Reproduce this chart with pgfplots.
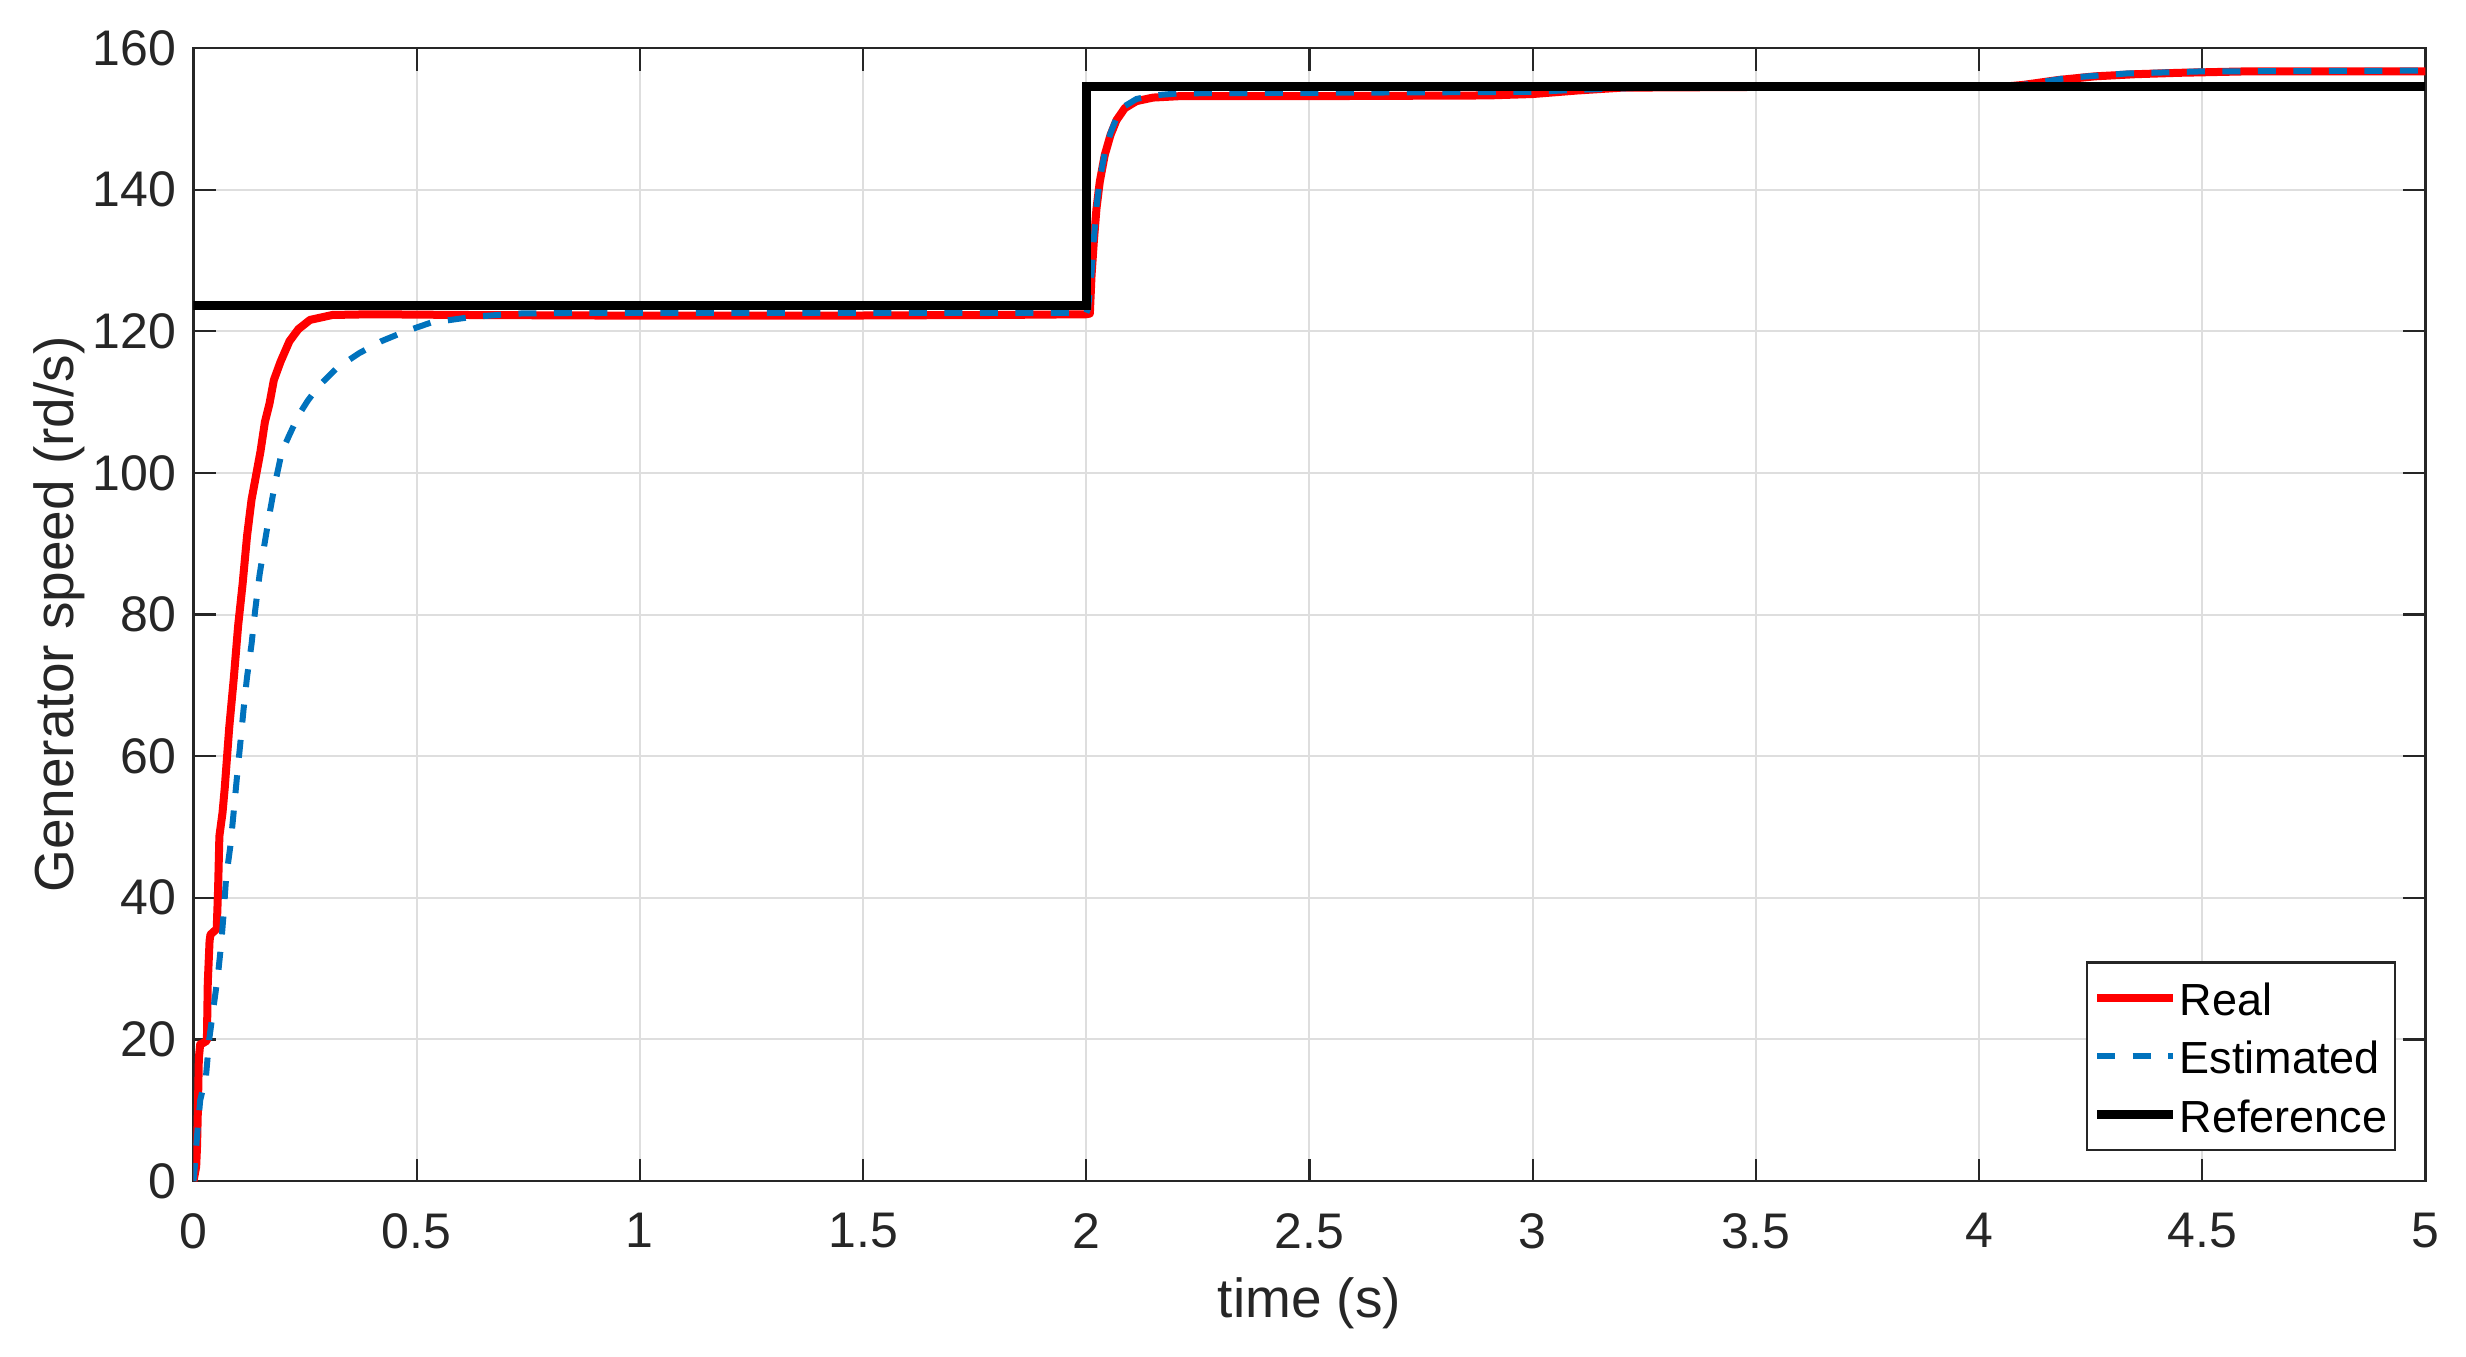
\documentclass[border=0pt]{standalone}
\usepackage{fontspec}
\setmainfont{Liberation Sans}
\usepackage{pgfplots}
\pgfplotsset{compat=1.18}
\definecolor{mred}{rgb}{1,0,0}
\definecolor{mblue}{rgb}{0,0.447,0.741}
\definecolor{axgray}{rgb}{0.15,0.15,0.15}
\definecolor{gridgray}{rgb}{0.87,0.87,0.87}

\begin{document}
\begin{tikzpicture}
\begin{axis}[
  name=ax,
  scale only axis,
  width=446.4pt, height=226.6pt,
  xmin=0, xmax=5, ymin=0, ymax=160,
  xtick={0,0.5,1,1.5,2,2.5,3,3.5,4,4.5,5},
  xticklabels={0,0.5,1,1.5,2,2.5,3,3.5,4,4.5,5},
  ytick={0,20,40,60,80,100,120,140,160},
  grid=major,
  major grid style={draw=gridgray, line width=0.4pt},
  axis line style={draw=axgray, line width=0.45pt},
  tick style={draw=axgray, line width=0.45pt},
  tick align=inside,
  major tick length=4.5pt,
  ticklabel style={font=\fontsize{10}{12}\selectfont, text=axgray},
  /pgf/number format/assume math mode=true,
  xticklabel style={yshift=-2.9pt},
  xlabel={time (s)},
  ylabel={Generator speed (rd/s)},
  label style={font=\fontsize{11}{13}\selectfont, text=axgray},
  xlabel style={at={(axis description cs:0.5,-0.108)}, anchor=center},
  ylabel style={at={(axis description cs:-0.0603,0.5)}, anchor=center},
  legend style={at={(rel axis cs:0.987,0.0264)}, anchor=south east,
    draw=axgray, line width=0.45pt, fill=white,
    font=\fontsize{9}{11}\selectfont,
    inner xsep=1.2pt, inner ysep=1.25pt,
    nodes={inner xsep=0.4pt, inner ysep=0.8pt, text height=8.5pt},
    row sep=0.1pt,
    /tikz/every even column/.style={column sep=0.8pt},
    cells={anchor=west}},
  legend image code/.code={\draw[#1] (0pt,0pt) -- (15.2pt,0pt);},
  legend cell align=left,
]
\addplot[mred, line width=1.6pt, line join=round] table {
t v
0 0
0.006 2
0.008 5
0.010 10.6
0.012 17.4
0.015 19.3
0.022 19.5
0.030 19.8
0.032 28
0.036 33.9
0.038 34.8
0.045 35.2
0.052 35.6
0.055 41
0.058 48.7
0.065 52
0.070 55.5
0.080 64
0.090 70.8
0.100 78.4
0.110 84.3
0.120 91.1
0.130 96.2
0.140 99.6
0.150 103
0.160 107.2
0.170 109.7
0.180 113.1
0.195 115.7
0.215 118.6
0.235 120.3
0.261 121.6
0.311 122.3
0.40 122.4
0.60 122.3
1.00 122.2
1.40 122.2
1.80 122.3
2.000 122.4
2.008 122.5
2.0117 127.8
2.0168 132.6
2.0228 137.3
2.0302 141.1
2.0414 144.9
2.0542 147.7
2.0676 149.8
2.0862 151.5
2.1124 152.5
2.1496 153.0
2.209 153.2
2.50 153.2
2.90 153.3
3.00 153.5
3.10 154.0
3.20 154.4
3.50 154.5
4.05 154.5
4.10 154.8
4.18 155.5
4.26 156.0
4.35 156.3
4.45 156.5
4.60 156.7
5.00 156.7
};
\addlegendentry{Real}
\addplot[mblue, line width=1.2pt, dash pattern=on 3.6pt off 3.5pt] table {
t v
0 0
0.002 1.3
0.008 6.4
0.015 11.4
0.028 14.8
0.035 19.9
0.045 24.6
0.055 29.2
0.062 33.5
0.068 38.1
0.073 42.8
0.083 47.5
0.090 52.1
0.097 56.8
0.105 61.9
0.112 66.5
0.120 71.2
0.130 75.8
0.138 80.5
0.148 85.6
0.160 90.3
0.170 94.1
0.182 98.3
0.198 103.0
0.213 105.1
0.235 108.1
0.256 110.2
0.281 112.3
0.321 114.8
0.371 116.9
0.421 118.6
0.471 119.9
0.531 121.2
0.621 122.0
0.721 122.5
0.872 122.6
1.50 122.6
2.000 122.6
2.004 123.2
2.0117 128.2
2.0168 132.9
2.0228 137.6
2.0302 141.4
2.0414 145.2
2.0542 148.0
2.0676 150.1
2.0862 151.8
2.1124 152.8
2.1496 153.3
2.209 153.6
2.60 153.7
3.00 153.8
3.10 154.1
3.25 154.4
3.60 154.5
4.08 154.6
4.14 155.2
4.20 155.8
4.33 156.4
4.50 156.7
5.00 156.8
};
\addlegendentry{Estimated}
\addplot[black, line width=1.8pt] table {
t v
0 123.6
2 123.6
2 154.5
5 154.5
};
\addlegendentry{Reference}
\end{axis}
\pgfresetboundingbox
\path[use as bounding box] ([xshift=-38.7pt,yshift=-35pt]ax.south west) rectangle ++(493.2pt,271.2pt);
\end{tikzpicture}
\end{document}
